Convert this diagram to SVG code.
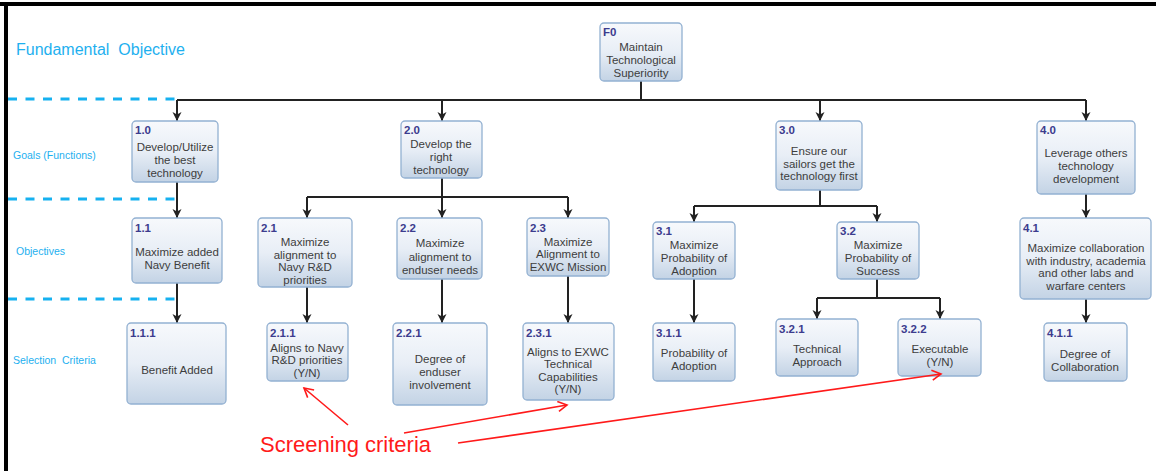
<svg xmlns="http://www.w3.org/2000/svg" width="1156" height="471" viewBox="0 0 1156 471">
<defs>
<linearGradient id="g" x1="0" y1="0" x2="0" y2="1">
<stop offset="0" stop-color="#f7f9fc"/>
<stop offset="0.5" stop-color="#e8eef6"/>
<stop offset="1" stop-color="#c3d3e5"/>
</linearGradient>
<marker id="ah" markerUnits="userSpaceOnUse" markerWidth="10" markerHeight="10" refX="9" refY="5" orient="auto">
<path d="M0,0.5 L9,5 L0,9.5 L2.5,5 z" fill="#222"/>
</marker>
<marker id="rh" markerUnits="userSpaceOnUse" markerWidth="12" markerHeight="12" refX="10" refY="6" orient="auto">
<path d="M1,1 L10,6 L1,11" fill="none" stroke="#ff1a1a" stroke-width="1.6"/>
</marker>
<style>
.b{fill:url(#g);stroke:#93b1d2;stroke-width:1.3}
.n{font-family:"Liberation Sans",Arial,sans-serif;font-size:11.5px;font-weight:bold;fill:#3c3c8e}
.t{font-family:"Liberation Sans",Arial,sans-serif;font-size:11.5px;fill:#3d3d3d;text-anchor:middle}
.lbl{font-family:"Liberation Sans",Arial,sans-serif;fill:#1eb0ef}
.c{fill:none;stroke:#222;stroke-width:2}
.ca{fill:none;stroke:#222;stroke-width:2;marker-end:url(#ah)}
.d{stroke:#16b1f0;stroke-width:3;stroke-dasharray:9 8.5}
.r{stroke:#ff1a1a;stroke-width:1.6;fill:none;marker-end:url(#rh)}
</style>
</defs>
<rect width="1156" height="471" fill="#fff"/>
<rect x="0" y="2" width="1156" height="4" fill="#000"/>
<rect x="4" y="2" width="4" height="469" fill="#000"/>

<g id="levels">
<line class="d" x1="8" y1="99" x2="178" y2="99"/>
<line class="d" x1="8" y1="199" x2="178" y2="199"/>
<line class="d" x1="8" y1="299" x2="178" y2="299"/>
<text class="lbl" x="16" y="55" font-size="16" xml:space="preserve">Fundamental  Objective</text>
<text class="lbl" x="13" y="159" font-size="10.5">Goals (Functions)</text>
<text class="lbl" x="16" y="255" font-size="10.5">Objectives</text>
<text class="lbl" x="13" y="364" font-size="10.5" xml:space="preserve">Selection  Criteria</text>
</g>

<g id="connectors">
<path class="c" d="M641,81 V100 M177,100 H1086"/>
<path class="ca" d="M177,100 V121"/>
<path class="ca" d="M442,100 V121"/>
<path class="ca" d="M820,100 V121"/>
<path class="ca" d="M1086,100 V121"/>
<path class="ca" d="M177,182 V218"/>
<path class="c" d="M442,178 V197 M307,197 H568"/>
<path class="ca" d="M307,197 V218"/>
<path class="ca" d="M442,197 V218"/>
<path class="ca" d="M568,197 V218"/>
<path class="c" d="M820,190 V206 M694,206 H877"/>
<path class="ca" d="M694,206 V222"/>
<path class="ca" d="M877,206 V222"/>
<path class="ca" d="M1086,194 V218"/>
<path class="ca" d="M177,283 V323"/>
<path class="ca" d="M307,287 V323"/>
<path class="ca" d="M442,279 V323"/>
<path class="ca" d="M568,276 V323"/>
<path class="ca" d="M694,279 V323"/>
<path class="c" d="M877,279 V298 M817,298 H940"/>
<path class="ca" d="M817,298 V319"/>
<path class="ca" d="M940,298 V319"/>
<path class="ca" d="M1086,299 V323"/>
</g>

<g id="F0"><rect class="b" x="600" y="23" width="82" height="58" rx="4"/>
<text class="n" x="603" y="36">F0</text>
<text class="t" x="641" y="51">Maintain</text><text class="t" x="641" y="64">Technological</text><text class="t" x="641" y="77">Superiority</text></g>

<g id="n1_0"><rect class="b" x="132" y="121" width="86" height="61" rx="4"/>
<text class="n" x="135" y="134">1.0</text>
<text class="t" x="175" y="151">Develop/Utilize</text><text class="t" x="175" y="164">the best</text><text class="t" x="175" y="177">technology</text></g>

<g id="n2_0"><rect class="b" x="401" y="121" width="81" height="57" rx="4"/>
<text class="n" x="404" y="134">2.0</text>
<text class="t" x="441" y="148">Develop the</text><text class="t" x="441" y="161">right</text><text class="t" x="441" y="174">technology</text></g>

<g id="n3_0"><rect class="b" x="776" y="121" width="86" height="69" rx="4"/>
<text class="n" x="779" y="134">3.0</text>
<text class="t" x="819" y="155">Ensure our</text><text class="t" x="819" y="168">sailors get the</text><text class="t" x="819" y="180">technology first</text></g>

<g id="n4_0"><rect class="b" x="1037" y="121" width="98" height="73" rx="4"/>
<text class="n" x="1040" y="134">4.0</text>
<text class="t" x="1086" y="157">Leverage others</text><text class="t" x="1086" y="170">technology</text><text class="t" x="1086" y="183">development</text></g>

<g id="n1_1"><rect class="b" x="132" y="218" width="90" height="65" rx="4"/>
<text class="n" x="135" y="232">1.1</text>
<text class="t" x="177" y="256">Maximize added</text><text class="t" x="177" y="269">Navy Benefit</text></g>

<g id="n2_1"><rect class="b" x="258" y="218" width="94" height="69" rx="4"/>
<text class="n" x="261" y="232">2.1</text>
<text class="t" x="305" y="246">Maximize</text><text class="t" x="305" y="259">alignment to</text><text class="t" x="305" y="271">Navy R&amp;D</text><text class="t" x="305" y="284">priorities</text></g>

<g id="n2_2"><rect class="b" x="397" y="218" width="85" height="61" rx="4"/>
<text class="n" x="400" y="232">2.2</text>
<text class="t" x="440" y="247">Maximize</text><text class="t" x="440" y="261">alignment to</text><text class="t" x="440" y="274">enduser needs</text></g>

<g id="n2_3"><rect class="b" x="527" y="218" width="82" height="58" rx="4"/>
<text class="n" x="530" y="232">2.3</text>
<text class="t" x="568" y="246">Maximize</text><text class="t" x="568" y="258">Alignment to</text><text class="t" x="568" y="271">EXWC Mission</text></g>

<g id="n3_1"><rect class="b" x="653" y="222" width="82" height="57" rx="4"/>
<text class="n" x="656" y="235">3.1</text>
<text class="t" x="694" y="249">Maximize</text><text class="t" x="694" y="262">Probability of</text><text class="t" x="694" y="275">Adoption</text></g>

<g id="n3_2"><rect class="b" x="837" y="222" width="82" height="57" rx="4"/>
<text class="n" x="840" y="235">3.2</text>
<text class="t" x="878" y="249">Maximize</text><text class="t" x="878" y="262">Probability of</text><text class="t" x="878" y="275">Success</text></g>

<g id="n4_1"><rect class="b" x="1020" y="218" width="131" height="81" rx="4"/>
<text class="n" x="1023" y="232">4.1</text>
<text class="t" x="1086" y="252">Maximize collaboration</text><text class="t" x="1086" y="265">with industry, academia</text><text class="t" x="1086" y="277">and other labs and</text><text class="t" x="1086" y="290">warfare centers</text></g>

<g id="n1_1_1"><rect class="b" x="127" y="323" width="99" height="81" rx="4"/>
<text class="n" x="130" y="337">1.1.1</text>
<text class="t" x="177" y="374">Benefit Added</text></g>

<g id="n2_1_1"><rect class="b" x="267" y="323" width="81" height="58" rx="4"/>
<text class="n" x="270" y="337">2.1.1</text>
<text class="t" x="307" y="352">Aligns to Navy</text><text class="t" x="307" y="364">R&amp;D priorities</text><text class="t" x="307" y="377">(Y/N)</text></g>

<g id="n2_2_1"><rect class="b" x="393" y="323" width="94" height="82" rx="4"/>
<text class="n" x="396" y="337">2.2.1</text>
<text class="t" x="440" y="363">Degree of</text><text class="t" x="440" y="376">enduser</text><text class="t" x="440" y="389">involvement</text></g>

<g id="n2_3_1"><rect class="b" x="523" y="323" width="91" height="77" rx="4"/>
<text class="n" x="526" y="337">2.3.1</text>
<text class="t" x="568" y="356">Aligns to EXWC</text><text class="t" x="568" y="368">Technical</text><text class="t" x="568" y="381">Capabilities</text><text class="t" x="568" y="393">(Y/N)</text></g>

<g id="n3_1_1"><rect class="b" x="653" y="323" width="82" height="58" rx="4"/>
<text class="n" x="656" y="337">3.1.1</text>
<text class="t" x="694" y="357">Probability of</text><text class="t" x="694" y="370">Adoption</text></g>

<g id="n3_2_1"><rect class="b" x="776" y="319" width="82" height="57" rx="4"/>
<text class="n" x="779" y="333">3.2.1</text>
<text class="t" x="817" y="353">Technical</text><text class="t" x="817" y="366">Approach</text></g>

<g id="n3_2_2"><rect class="b" x="898" y="319" width="83" height="57" rx="4"/>
<text class="n" x="901" y="333">3.2.2</text>
<text class="t" x="940" y="353">Executable</text><text class="t" x="940" y="366">(Y/N)</text></g>

<g id="n4_1_1"><rect class="b" x="1044" y="323" width="83" height="58" rx="4"/>
<text class="n" x="1047" y="337">4.1.1</text>
<text class="t" x="1085" y="358">Degree of</text><text class="t" x="1085" y="371">Collaboration</text></g>

<g id="annotation">
<path class="r" d="M348,425 L304,388"/>
<path class="r" d="M404,433 L567,405"/>
<path class="r" d="M458,443 L941,374"/>
<text x="260" y="452" font-family="'Liberation Sans',Arial,sans-serif" font-size="22" fill="#ff1a1a" textLength="171" lengthAdjust="spacingAndGlyphs">Screening criteria</text>
</g>
</svg>
